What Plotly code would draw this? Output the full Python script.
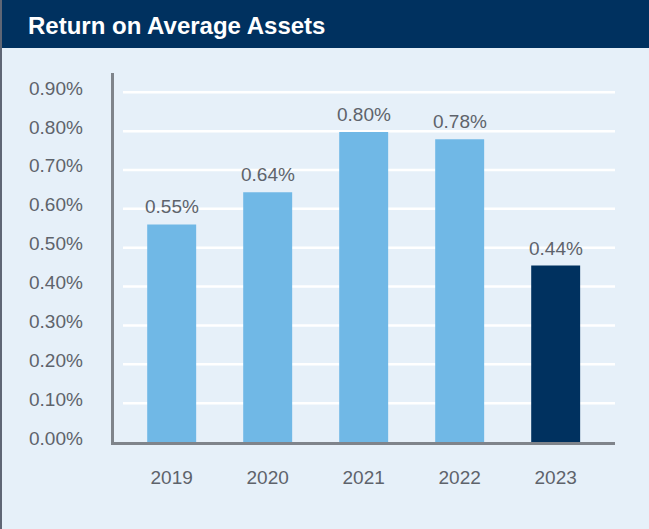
import plotly.graph_objects as go

# ---- data ----
years = ["2019", "2020", "2021", "2022", "2023"]
roaa = [0.56, 0.643, 0.798, 0.779, 0.454]          # bar heights (%)
roaa_labels = ["0.55%", "0.64%", "0.80%", "0.78%", "0.44%"]
tick_vals = [0.0, 0.1, 0.2, 0.3, 0.4, 0.5, 0.6, 0.7, 0.8, 0.9]
tick_text = ["0.00%", "0.10%", "0.20%", "0.30%", "0.40%", "0.50%", "0.60%", "0.70%", "0.80%", "0.90%"]

# ---- styling ----
W, H = 649, 529
L, R, T, B = 114, 615, 73, 442
BG = "#E6F0F9"
NAVY = "#00315F"
LIGHT = "#70B8E6"
TXT = "#5E636B"
AXIS = "#7F848B"
FONT = "Liberation Sans, Arial, Helvetica, sans-serif"

colors = [LIGHT] * (len(years) - 1) + [NAVY]

def px_x(px):
    return (px - L) / (R - L)

def px_y(py):
    return (B - py) / (B - T)

fig = go.Figure()
fig.add_trace(go.Bar(
    x=years, y=roaa, marker=dict(color=colors, line=dict(width=0)),
    width=0.51, hoverinfo="skip",
))

annotations = []
# value labels above bars (category index positions on the x axis)
for i, (val, lab) in enumerate(zip(roaa, roaa_labels)):
    annotations.append(dict(x=i, y=val, xref="x", yref="y", text=lab, showarrow=False,
                            yanchor="bottom", yshift=5,
                            font=dict(family=FONT, size=19, color=TXT)))
# y tick labels (sit slightly above their gridlines, as in the original)
for v, t in zip(tick_vals, tick_text):
    annotations.append(dict(x=0, y=v, xref="paper", yref="y", text=t, showarrow=False,
                            xanchor="right", xshift=-29, yshift=4,
                            font=dict(family=FONT, size=19, color=TXT)))

shapes = []
# gridlines (start slightly right of axis)
for v in tick_vals[1:]:
    shapes.append(dict(type="line", xref="paper", yref="y", x0=0.018, x1=1, y0=v, y1=v,
                       line=dict(color="white", width=2.5), layer="below"))
# title bar
shapes.append(dict(type="rect", xref="paper", yref="paper", x0=px_x(2), x1=px_x(W + 2),
                   y0=px_y(48), y1=px_y(-2), fillcolor=NAVY, line=dict(width=0), layer="below"))
# left border strip
shapes.append(dict(type="rect", xref="paper", yref="paper", x0=px_x(-1), x1=px_x(2),
                   y0=px_y(H + 2), y1=px_y(-2), fillcolor="#5F6675", line=dict(width=0), layer="below"))

fig.update_layout(
    width=W, height=H,
    margin=dict(l=L, r=W - R, t=T, b=H - B, pad=0),
    paper_bgcolor=BG, plot_bgcolor=BG,
    showlegend=False,
    shapes=shapes,
    annotations=annotations,
    font=dict(family=FONT, color=TXT, size=19),
    title=dict(text="<b>Return on Average Assets</b>", x=28 / W, xanchor="left", xref="container",
               y=1 - 26 / H, yanchor="middle", yref="container",
               font=dict(family=FONT, size=24, color="white")),
)
fig.update_xaxes(
    type="category", range=[-0.601, 4.618], showgrid=False, zeroline=False,
    showline=True, linecolor=AXIS, linewidth=3, ticks="", ticklabelstandoff=16,
    tickfont=dict(family=FONT, size=19, color=TXT), fixedrange=True,
)
fig.update_yaxes(
    range=[0, 0.9496], tickvals=tick_vals, showticklabels=False, showgrid=False, zeroline=False,
    showline=True, linecolor=AXIS, linewidth=2.5, ticks="", fixedrange=True,
)

fig.write_html(
    "out.html",
    config={"displayModeBar": False},
    post_script="document.body.style.margin='0';document.body.style.padding='0';"
                "document.body.style.background='" + BG + "';",
)
